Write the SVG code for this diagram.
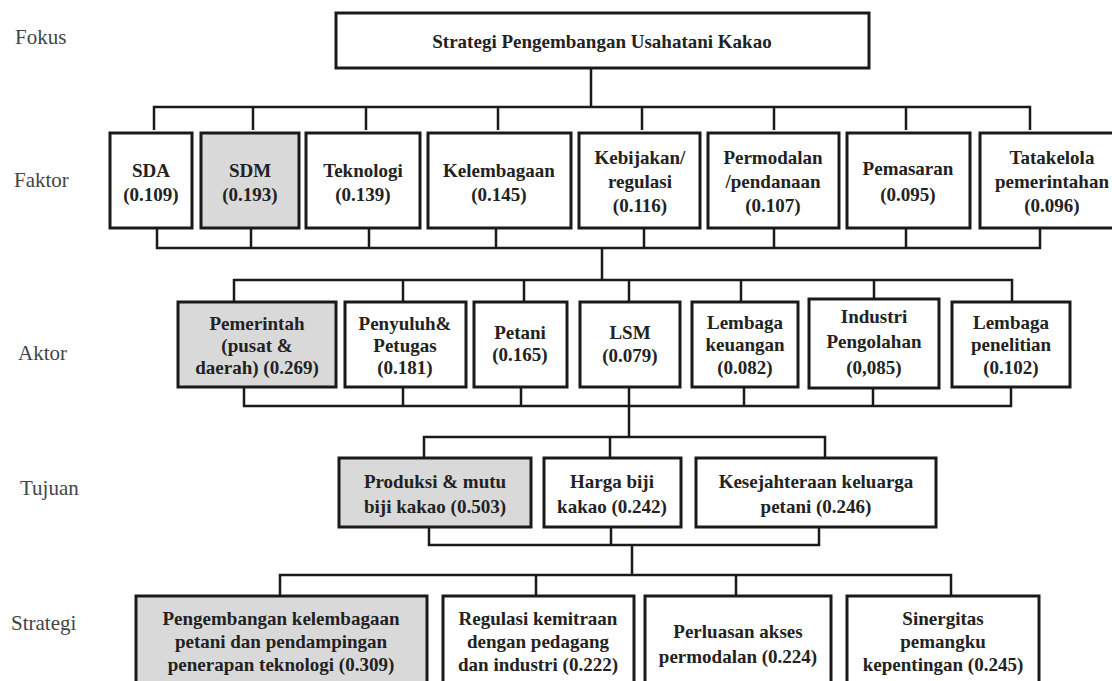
<svg xmlns="http://www.w3.org/2000/svg" width="1112" height="681" viewBox="0 0 1112 681">
<style>
.box{fill:#fff;stroke:#1a1a1a;stroke-width:3}
.hi{fill:#d9d9d9}
.t{font-weight:bold;font-size:19px;fill:#222;text-anchor:middle}
.lab{font-size:21px;fill:#444}
.c{fill:none;stroke:#1a1a1a;stroke-width:2.5}
</style>
<rect width="1112" height="681" fill="#fff"/>
<g font-family="Liberation Serif, Times New Roman, Tinos, Noto Serif, FreeSerif, DejaVu Serif, serif">
<g id="labels">
<text class="lab" x="15" y="44">Fokus</text>
<text class="lab" x="14" y="187">Faktor</text>
<text class="lab" x="18" y="360">Aktor</text>
<text class="lab" x="20" y="495">Tujuan</text>
<text class="lab" x="11" y="630">Strategi</text>
</g>
<g id="connectors">
<path class="c" d="M591 68V107M154 130V107H1030V130M253 107V130M366 107V130M498 107V130M642 107V130M774 107V130M906 107V130"/>
<path class="c" d="M157 228V248H1040V228M251 228V248M369 228V248M496 228V248M644 228V248M774 228V248M906 228V248M602 248V280"/>
<path class="c" d="M234 302V280H1012V302M403 280V302M524 280V302M629 280V302M741 280V302M874 280V299"/>
<path class="c" d="M244 387V406H1011V387M403 387V406M521 387V406M629 387V437M744 387V406M873 388V406"/>
<path class="c" d="M424 458V437H825V458M610 437V458"/>
<path class="c" d="M429 527V545H819V527M611 527V545M632 545V575"/>
<path class="c" d="M280 596V575H951V596M536 575V596M736 575V596"/>
</g>
<g id="fokus">
<rect class="box" x="336" y="13" width="533" height="55"/>
<text class="t" x="602" y="48">Strategi Pengembangan Usahatani Kakao</text>
</g>
<g id="f-sda"><rect class="box" x="110" y="133" width="82" height="95"/>
<text class="t" x="151" y="177"><tspan x="151">SDA</tspan><tspan x="151" dy="24">(0.109)</tspan></text></g>
<g id="f-sdm"><rect class="box hi" x="201" y="133" width="98" height="95"/>
<text class="t" x="250" y="177"><tspan x="250">SDM</tspan><tspan x="250" dy="24">(0.193)</tspan></text></g>
<g id="f-tek"><rect class="box" x="306" y="133" width="114" height="95"/>
<text class="t" x="363" y="177"><tspan x="363">Teknologi</tspan><tspan x="363" dy="24">(0.139)</tspan></text></g>
<g id="f-kel"><rect class="box" x="428" y="133" width="143" height="95"/>
<text class="t" x="499" y="177"><tspan x="499">Kelembagaan</tspan><tspan x="499" dy="24">(0.145)</tspan></text></g>
<g id="f-keb"><rect class="box" x="579" y="133" width="121" height="95"/>
<text class="t" x="640" y="164"><tspan x="640">Kebijakan/</tspan><tspan x="640" dy="24">regulasi</tspan><tspan x="640" dy="24">(0.116)</tspan></text></g>
<g id="f-per"><rect class="box" x="708" y="133" width="131" height="95"/>
<text class="t" x="773" y="164"><tspan x="773">Permodalan</tspan><tspan x="773" dy="24">/pendanaan</tspan><tspan x="773" dy="24">(0.107)</tspan></text></g>
<g id="f-pem"><rect class="box" x="847" y="133" width="123" height="95"/>
<text class="t" x="908" y="175"><tspan x="908">Pemasaran</tspan><tspan x="908" dy="26">(0.095)</tspan></text></g>
<g id="f-tat"><rect class="box" x="980" y="133" width="146" height="95"/>
<text class="t" x="1052" y="164"><tspan x="1052">Tatakelola</tspan><tspan x="1052" dy="24">pemerintahan</tspan><tspan x="1052" dy="24">(0.096)</tspan></text></g>
<g id="a-pem"><rect class="box hi" x="178" y="302" width="158" height="85"/>
<text class="t" x="257" y="330"><tspan x="257">Pemerintah</tspan><tspan x="257" dy="22">(pusat &amp;</tspan><tspan x="257" dy="22">daerah) (0.269)</tspan></text></g>
<g id="a-pen"><rect class="box" x="345" y="302" width="121" height="85"/>
<text class="t" x="405" y="330"><tspan x="405">Penyuluh&amp;</tspan><tspan x="405" dy="22">Petugas</tspan><tspan x="405" dy="22">(0.181)</tspan></text></g>
<g id="a-pet"><rect class="box" x="474" y="302" width="93" height="85"/>
<text class="t" x="520" y="339"><tspan x="520">Petani</tspan><tspan x="520" dy="22">(0.165)</tspan></text></g>
<g id="a-lsm"><rect class="box" x="580" y="302" width="100" height="85"/>
<text class="t" x="630" y="339"><tspan x="630">LSM</tspan><tspan x="630" dy="23">(0.079)</tspan></text></g>
<g id="a-lk"><rect class="box" x="692" y="302" width="106" height="85"/>
<text class="t" x="745" y="329"><tspan x="745">Lembaga</tspan><tspan x="745" dy="22">keuangan</tspan><tspan x="745" dy="23">(0.082)</tspan></text></g>
<g id="a-ind"><rect class="box" x="809" y="299" width="130" height="89"/>
<text class="t" x="874" y="323"><tspan x="874">Industri</tspan><tspan x="874" dy="25">Pengolahan</tspan><tspan x="874" dy="26">(0,085)</tspan></text></g>
<g id="a-lp"><rect class="box" x="952" y="302" width="118" height="85"/>
<text class="t" x="1011" y="329"><tspan x="1011">Lembaga</tspan><tspan x="1011" dy="22">penelitian</tspan><tspan x="1011" dy="23">(0.102)</tspan></text></g>
<g id="t-pro"><rect class="box hi" x="339" y="458" width="192" height="69"/>
<text class="t" x="435" y="488"><tspan x="435">Produksi &amp; mutu</tspan><tspan x="435" dy="25">biji kakao (0.503)</tspan></text></g>
<g id="t-har"><rect class="box" x="544" y="458" width="137" height="69"/>
<text class="t" x="612" y="488"><tspan x="612">Harga biji</tspan><tspan x="612" dy="25">kakao (0.242)</tspan></text></g>
<g id="t-kes"><rect class="box" x="696" y="458" width="240" height="69"/>
<text class="t" x="816" y="488"><tspan x="816">Kesejahteraan keluarga</tspan><tspan x="816" dy="25">petani (0.246)</tspan></text></g>
<g id="s-pen"><rect class="box hi" x="136" y="596" width="291" height="95"/>
<text class="t" x="281" y="625"><tspan x="281">Pengembangan kelembagaan</tspan><tspan x="281" dy="23">petani dan pendampingan</tspan><tspan x="281" dy="23">penerapan teknologi (0.309)</tspan></text></g>
<g id="s-reg"><rect class="box" x="443" y="596" width="191" height="95"/>
<text class="t" x="538" y="625"><tspan x="538">Regulasi kemitraan</tspan><tspan x="538" dy="23">dengan pedagang</tspan><tspan x="538" dy="23">dan industri (0.222)</tspan></text></g>
<g id="s-per"><rect class="box" x="645" y="596" width="186" height="95"/>
<text class="t" x="738" y="638"><tspan x="738">Perluasan akses</tspan><tspan x="738" dy="25">permodalan (0.224)</tspan></text></g>
<g id="s-sin"><rect class="box" x="847" y="596" width="192" height="95"/>
<text class="t" x="943" y="625"><tspan x="943">Sinergitas</tspan><tspan x="943" dy="23">pemangku</tspan><tspan x="943" dy="23">kepentingan (0.245)</tspan></text></g>
</g>
</svg>
